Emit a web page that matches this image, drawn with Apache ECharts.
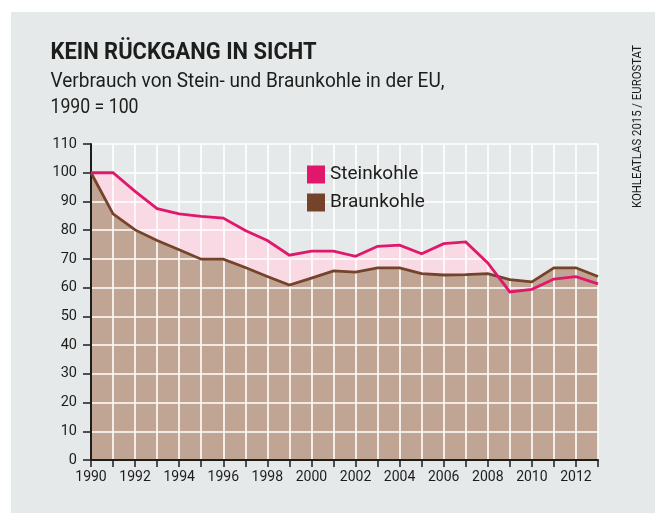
<!DOCTYPE html>
<html>
<head>
<meta charset="utf-8">
<title>Kein Rückgang in Sicht</title>
<script src="https://cdn.jsdelivr.net/npm/echarts@6/dist/echarts.min.js"></script>
<style>
  html, body { margin: 0; padding: 0; background: #ffffff; }
  #chart { width: 660px; height: 513px; }
</style>
</head>
<body>
<div id="chart"></div>
<script>
// Verbrauch von Stein- und Braunkohle in der EU, Index 1990 = 100
const years = [1990, 1991, 1992, 1993, 1994, 1995, 1996, 1997, 1998, 1999, 2000, 2001,
               2002, 2003, 2004, 2005, 2006, 2007, 2008, 2009, 2010, 2011, 2012, 2013];
const steinkohle = [100, 100, 93.5, 87.5, 85.7, 84.8, 84.2, 79.9, 76.4, 71.3, 72.7, 72.7,
                    70.9, 74.4, 74.8, 71.8, 75.3, 75.9, 68.6, 58.5, 59.4, 63.0, 63.8, 61.3];
const braunkohle = [100, 85.7, 80.1, 76.4, 73.2, 69.9, 69.9, 67.0, 63.9, 60.9, 63.3, 65.8,
                    65.4, 66.9, 66.9, 64.9, 64.4, 64.5, 64.9, 62.8, 62.0, 66.9, 66.9, 63.9];
const seriesNames = ['Steinkohle', 'Braunkohle'];

const title = 'KEIN RÜCKGANG IN SICHT';
const subtitle1 = 'Verbrauch von Stein- und Braunkohle in der EU,';
const subtitle2 = '1990 = 100';
const source = 'KOHLEATLAS 2015 / EUROSTAT';

const INK = '#1d1d1b';
const PINK = '#e0186c';
const PINK_FILL = '#f9d9e4';
const BROWN = '#74432a';
const TAN_FILL = '#c0a594';

// horizontal squeeze factor so a text run fills a given width
const measureCtx = document.createElement('canvas').getContext('2d');
function squeeze(text, font, width) {
  measureCtx.font = font;
  return width / measureCtx.measureText(text).width;
}

const pairs = (vals) => years.map((y, i) => [y, vals[i]]);

const titleFont = '700 24px Roboto';
const subFont = '400 21px Roboto';
const srcFont = '400 13px Roboto';

const chart = echarts.init(document.getElementById('chart'), null, { renderer: 'canvas' });

chart.setOption({
  animation: false,
  backgroundColor: '#ffffff',
  graphic: [
    { type: 'rect', z: -100, silent: true,
      shape: { x: 11, y: 12, width: 644, height: 501 },
      style: { fill: '#e6e9ea' } },
    { type: 'text', x: 50.5, y: 53, scaleX: squeeze(title, titleFont, 266),
      style: { text: title, font: titleFont, fill: INK, align: 'left', verticalAlign: 'middle' } },
    { type: 'text', x: 50.5, y: 82, scaleX: squeeze(subtitle1, subFont, 394),
      style: { text: subtitle1, font: subFont, fill: INK, align: 'left', verticalAlign: 'middle' } },
    { type: 'text', x: 50.5, y: 108, scaleX: squeeze(subtitle2, subFont, 88),
      style: { text: subtitle2, font: subFont, fill: INK, align: 'left', verticalAlign: 'middle' } },
    { type: 'text', x: 637.5, y: 126.5, rotation: Math.PI / 2,
      scaleX: squeeze(source, srcFont, 163),
      style: { text: source, font: srcFont, fill: INK, align: 'center', verticalAlign: 'middle' } }
  ],
  legend: {
    data: seriesNames,
    orient: 'vertical',
    left: 302,
    top: 160,
    itemWidth: 18,
    itemHeight: 18,
    itemGap: 9,
    icon: 'rect',
    selectedMode: false,
    textStyle: { fontFamily: 'Roboto', fontSize: 19, color: INK }
  },
  grid: { left: 91, right: 62, top: 144, bottom: 53, containLabel: false },
  xAxis: {
    type: 'value',
    min: 1990,
    max: 2013,
    interval: 1,
    z: 3,
    axisLine: { show: true, onZero: false, lineStyle: { color: INK, width: 2 } },
    axisTick: { show: true, length: 7, lineStyle: { color: INK, width: 1.5 } },
    axisLabel: {
      margin: 10,
      fontFamily: 'Roboto',
      fontSize: 14,
      color: INK,
      formatter: (v) => (v % 2 === 0 ? String(v) : '')
    },
    splitLine: { show: true, showMinLine: false, lineStyle: { color: '#ffffff', width: 1.6 } }
  },
  yAxis: {
    type: 'value',
    min: 0,
    max: 110,
    interval: 10,
    z: 3,
    axisLine: { show: true, lineStyle: { color: INK, width: 2 } },
    axisTick: { show: true, length: 8, lineStyle: { color: INK, width: 1.5 } },
    axisLabel: { margin: 14, fontFamily: 'Roboto', fontSize: 14.5, color: INK },
    splitLine: { show: true, showMinLine: false, lineStyle: { color: '#ffffff', width: 1.6 } }
  },
  series: [
    { name: 'Steinkohle-Fläche', type: 'line', data: pairs(steinkohle), z: 1, silent: true,
      symbol: 'none', lineStyle: { width: 0 }, areaStyle: { color: PINK_FILL, opacity: 1 } },
    { name: 'Braunkohle-Fläche', type: 'line', data: pairs(braunkohle), z: 2, silent: true,
      symbol: 'none', lineStyle: { width: 0 }, areaStyle: { color: TAN_FILL, opacity: 1 } },
    { name: 'Braunkohle', type: 'line', data: pairs(braunkohle), z: 4,
      symbol: 'none', itemStyle: { color: BROWN },
      lineStyle: { color: BROWN, width: 2.8, join: 'miter' } },
    { name: 'Steinkohle', type: 'line', data: pairs(steinkohle), z: 5,
      symbol: 'none', itemStyle: { color: PINK },
      lineStyle: { color: PINK, width: 2.8, join: 'miter' } }
  ]
});
</script>
</body>
</html>
